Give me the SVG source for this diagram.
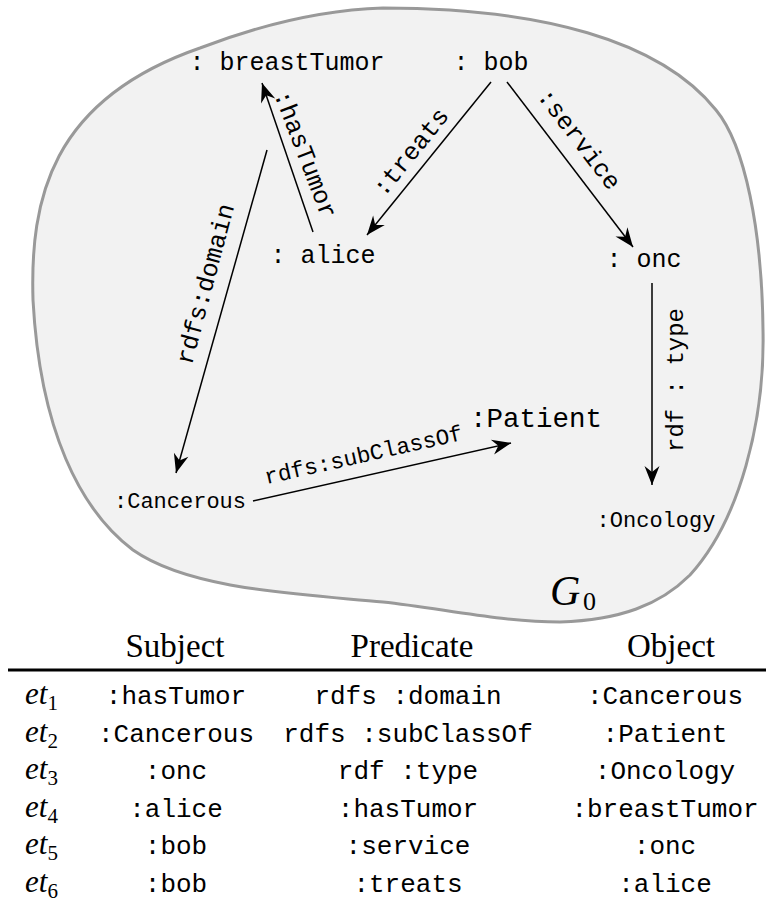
<svg xmlns="http://www.w3.org/2000/svg" width="766" height="916" viewBox="0 0 766 916">
<style>
.mono{font-family:"Liberation Mono","DejaVu Sans Mono",monospace;fill:#000}
.serif{font-family:"Liberation Serif","DejaVu Serif",serif;fill:#000}
.it{font-style:italic}
.edge{stroke:#000;stroke-width:1.5;fill:none;marker-end:url(#arr)}
.n{font-size:25px;text-anchor:middle}
.e{font-size:25px;text-anchor:middle}
.c{font-size:26px;text-anchor:middle}
.h{font-size:33px;text-anchor:middle}
</style>
<defs>
<marker id="arr" viewBox="-20 -10 22 20" refX="0" refY="0" markerWidth="22" markerHeight="20" markerUnits="userSpaceOnUse" orient="auto">
<path d="M0,0 L-19,-7.5 L-13,0 L-19,7.5 Z" fill="#000"/>
</marker>
</defs>
<g id="graph-G0">
<path d="M383,8 C540,8 660,40 716,110 C745,145 762,230 763,330 C765,420 740,520 690,575 C660,605 620,620 560,622 C500,622 440,608 383,602 C300,594 190,590 133,550 C80,510 40,430 33,300 C30,200 50,100 200,48 C260,25 320,10 383,8 Z" fill="#f2f2f2" stroke="#999999" stroke-width="3"/>
<text class="serif it" x="550" y="605" font-size="42">G</text>
<text class="serif" x="583" y="610" font-size="26">0</text>
</g>
<g id="connectors">
<line class="edge" x1="313" y1="232" x2="262" y2="83"/>
<line class="edge" x1="491" y1="82" x2="367" y2="235"/>
<line class="edge" x1="507" y1="82" x2="633" y2="247"/>
<line class="edge" x1="267" y1="150" x2="176" y2="473"/>
<line class="edge" x1="253" y1="501" x2="511" y2="443"/>
<line class="edge" x1="652" y1="283" x2="652" y2="485"/>
<text class="mono e" transform="translate(298,157) rotate(69)">:hasTumor</text>
<text class="mono e" transform="translate(417,157) rotate(-51)">:treats</text>
<text class="mono e" transform="translate(573,144) rotate(52.6)">:service</text>
<text class="mono e" transform="translate(213,286) rotate(-75)">rdfs:domain</text>
<text class="mono" font-size="22.5" text-anchor="middle" transform="translate(365,462) rotate(-12.7)">rdfs:subClassOf</text>
<text class="mono" font-size="24" text-anchor="middle" transform="translate(683,380) rotate(-90)">rdf : type</text>
</g>
<g id="node-breastTumor"><text class="mono n" x="287" y="70">: breastTumor</text></g>
<g id="node-bob"><text class="mono n" x="491" y="70">: bob</text></g>
<g id="node-alice"><text class="mono n" x="323" y="263">: alice</text></g>
<g id="node-onc"><text class="mono n" x="644" y="267">: onc</text></g>
<g id="node-Patient"><text class="mono" font-size="27.5" text-anchor="middle" x="536" y="427">:Patient</text></g>
<g id="node-Cancerous"><text class="mono" font-size="22" text-anchor="middle" x="180" y="508">:Cancerous</text></g>
<g id="node-Oncology"><text class="mono" font-size="22" text-anchor="middle" x="656" y="527">:Oncology</text></g>
<g id="table">
<text class="serif h" x="175" y="657">Subject</text>
<text class="serif h" x="412" y="657">Predicate</text>
<text class="serif h" x="671" y="657">Object</text>
<line x1="8" y1="670" x2="766" y2="670" stroke="#000" stroke-width="3"/>
<g class="serif it" font-size="31">
<text x="25" y="704">et<tspan font-style="normal" font-size="21" dy="6">1</tspan></text>
<text x="25" y="741.5">et<tspan font-style="normal" font-size="21" dy="6">2</tspan></text>
<text x="25" y="779">et<tspan font-style="normal" font-size="21" dy="6">3</tspan></text>
<text x="25" y="816.5">et<tspan font-style="normal" font-size="21" dy="6">4</tspan></text>
<text x="25" y="854">et<tspan font-style="normal" font-size="21" dy="6">5</tspan></text>
<text x="25" y="891.5">et<tspan font-style="normal" font-size="21" dy="6">6</tspan></text>
</g>
<text class="mono c" x="176" y="704">:hasTumor</text>
<text class="mono c" x="408" y="704">rdfs :domain</text>
<text class="mono c" x="665" y="704">:Cancerous</text>
<text class="mono c" x="176" y="741.5">:Cancerous</text>
<text class="mono c" x="408" y="741.5">rdfs :subClassOf</text>
<text class="mono c" x="665" y="741.5">:Patient</text>
<text class="mono c" x="176" y="779">:onc</text>
<text class="mono c" x="408" y="779">rdf :type</text>
<text class="mono c" x="665" y="779">:Oncology</text>
<text class="mono c" x="176" y="816.5">:alice</text>
<text class="mono c" x="408" y="816.5">:hasTumor</text>
<text class="mono c" x="665" y="816.5">:breastTumor</text>
<text class="mono c" x="176" y="854">:bob</text>
<text class="mono c" x="408" y="854">:service</text>
<text class="mono c" x="665" y="854">:onc</text>
<text class="mono c" x="176" y="891.5">:bob</text>
<text class="mono c" x="408" y="891.5">:treats</text>
<text class="mono c" x="665" y="891.5">:alice</text>
</g>
</svg>
